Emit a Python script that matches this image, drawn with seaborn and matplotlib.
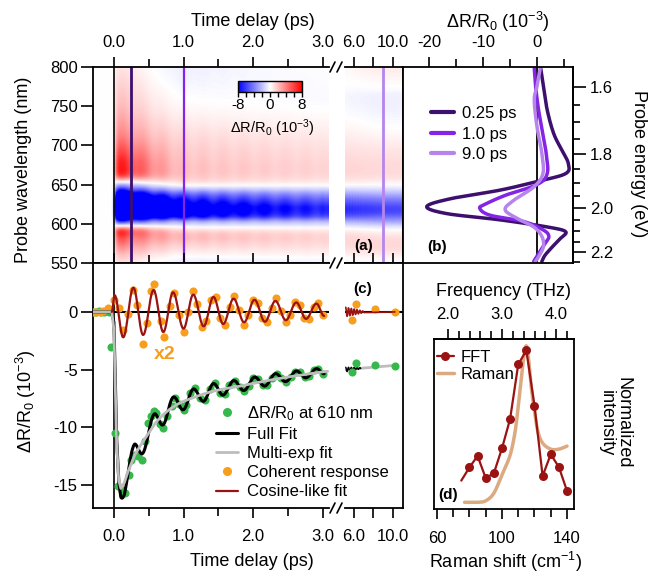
import numpy as np
import matplotlib
matplotlib.use('Agg')
import matplotlib.pyplot as plt
from matplotlib.lines import Line2D
from matplotlib.ticker import FixedLocator
import seaborn as sns

# ---- panel (b): transient spectra, probe wavelength (nm) vs dR/R0 (1e-3) ----
wl_025 = [798, 775, 745, 715, 694, 677, 664, 654, 643, 632, 622, 613, 605, 596, 590, 581, 571, 560, 552]
dr_025 = [0.7, 1.2, 1.9, 3.1, 4.6, 5.8, 5.3, 0.0, -6.8, -16.0, -20.4, -16.7, -6.8, 1.9, 5.3, 4.3, 2.9, 1.5, 0.9]
wl_100 = [798, 775, 745, 715, 690, 664, 650, 637, 626, 620, 611, 603, 592, 584, 575, 562, 552]
dr_100 = [-0.5, -0.25, 0.3, 1.1, 1.7, 1.9, 0.0, -5.6, -9.3, -10.6, -8.7, -2.5, 1.2, 2.2, 1.5, 0.3, -0.6]
wl_900 = [798, 775, 758, 724, 690, 664, 647, 630, 618, 607, 596, 584, 571, 558, 552]
dr_900 = [0.6, 0.0, -0.5, 0.0, 0.9, 1.1, -0.6, -4.3, -5.9, -3.7, -0.6, 0.9, 1.2, 0.3, -0.3]
spec_times = [0.25, 1.0, 9.0]
spec_labels = ['0.25 ps', '1.0 ps', '9.0 ps']
spec_colors = ['#3d0f6e', '#8424e6', '#b684ec']

# ---- panel (c): kinetics at 610 nm (1e-3) ----
mexp_t = [-0.30, -0.03, 0.00, 0.02, 0.04, 0.07, 0.10, 0.15, 0.20, 0.30, 0.40, 0.50, 0.60,
          0.70, 0.80, 0.90, 1.00, 1.20, 1.40, 1.60, 1.80, 2.00, 2.30, 2.60, 3.00, 3.07]
mexp_v = [0.0, 0.0, -1.5, -6.5, -11.5, -14.6, -15.3, -14.8, -13.9, -12.4, -11.4, -10.5, -9.6,
          -8.95, -8.45, -8.05, -7.75, -7.3, -6.9, -6.65, -6.45, -6.2, -5.85, -5.55, -5.2, -5.15]
mexp2_t = [5.1, 10.4]
mexp2_v = [-5.0, -4.62]

# extrema of the cosine-like fit (x2 scale)
cos_t = [-0.03, 0.01, 0.134, 0.28, 0.42, 0.57, 0.71, 0.85, 1.00, 1.14, 1.29, 1.43, 1.57,
         1.72, 1.87, 2.02, 2.17, 2.32, 2.47, 2.62, 2.76, 2.91, 3.02]
cos_v = [0.0, 1.45, -2.2, 2.1, -2.0, 1.9, -1.75, 1.7, -1.45, 1.5, -1.25, 1.3, -1.05,
         1.15, -0.9, 1.05, -0.85, 0.95, -0.72, 0.82, -0.6, 0.72, -0.35]
cos2_t = [5.15, 5.29, 5.44, 5.58, 5.73, 5.87, 6.02, 6.16, 6.31, 6.45, 6.60, 6.74, 6.89, 7.03, 10.2]
cos2_v = [0.40, -0.38, 0.35, -0.33, 0.30, -0.28, 0.25, -0.22, 0.20, -0.17, 0.14, -0.11, 0.08, -0.05, 0.0]

green_t = [-0.30, -0.26, -0.22, -0.18, -0.14, -0.10, -0.07, -0.04, 0.01, 0.06, 0.11, 0.16, 0.21,
           0.25, 0.30, 0.35, 0.40, 0.45, 0.49, 0.53, 0.57, 0.61, 0.66, 0.71, 0.77, 0.83, 0.88,
           0.94, 1.00, 1.04, 1.09, 1.17, 1.24, 1.31, 1.38, 1.45, 1.52, 1.59, 1.66, 1.74, 1.81,
           1.87, 1.94, 2.00, 2.07, 2.14, 2.20, 2.27, 2.34, 2.40, 2.47, 2.54, 2.60, 2.67, 2.74,
           2.80, 2.87, 2.93, 3.00]
green_v = [0.0, 0.0, 0.05, -0.05, 0.0, 0.05, 0.0, -3.0, -10.5, -15.1, -15.4, -15.7, -14.1,
           -12.8, -12.4, -12.5, -12.8, -11.2, -9.6, -9.0, -8.6, -8.8, -9.7, -10.1, -9.0, -8.2, -7.5,
           -8.0, -8.5, -8.1, -7.0, -6.6, -7.5, -7.6, -6.65, -6.2, -7.0, -7.1, -6.35, -5.95, -6.5,
           -6.85, -6.4, -5.75, -5.8, -6.3, -6.3, -5.7, -5.35, -5.75, -6.05, -5.65, -5.2, -5.25, -5.65,
           -5.55, -5.05, -4.95, -5.35]
green2_t = [5.76, 6.17, 8.15, 10.2]
green2_v = [-5.17, -4.39, -4.59, -4.68]

orange_t = [-0.30, -0.25, -0.20, -0.15, -0.09, 0.00, 0.07, 0.13, 0.20, 0.27, 0.33, 0.42, 0.47,
            0.53, 0.57, 0.67, 0.72, 0.80, 0.87, 0.93, 1.00, 1.07, 1.13, 1.20, 1.27, 1.33, 1.40,
            1.47, 1.53, 1.60, 1.67, 1.73, 1.80, 1.87, 1.93, 2.00, 2.07, 2.13, 2.20, 2.27, 2.33,
            2.40, 2.47, 2.53, 2.60, 2.67, 2.73, 2.80, 2.87, 2.93, 3.00]
orange_v = [0.0, 0.0, 0.0, 0.05, 0.35, 1.0, 0.3, -1.6, -0.2, 1.9, 0.6, -2.75, -1.0,
            1.8, 2.45, -0.8, -2.15, 0.5, 1.6, -0.3, -1.7, 0.0, 1.8, 0.7, -1.3, -0.8, 1.0,
            1.3, -0.5, -1.1, 0.4, 1.4, 0.2, -1.1, -0.3, 1.0, 0.8, -0.5, -0.9, 0.3, 1.2,
            0.1, -0.9, -0.3, 0.9, 0.6, -0.5, -0.6, 0.4, 0.8, -0.3]
orange2_t = [5.76, 6.17, 8.15, 10.2]
orange2_v = [-0.69, 0.69, 0.23, -0.05]

# ---- panel (d): FFT vs Raman ----
fft_x = [75, 80, 85, 90, 95, 100, 105, 110, 115, 120, 125, 130, 135, 140]
fft_y = [0.143, 0.230, 0.305, 0.160, 0.191, 0.355, 0.548, 0.908, 1.0, 0.636, 0.173, 0.316, 0.232, 0.075]
raman_x = [77, 85, 90, 95, 100, 105, 108, 110, 112, 113.5, 115, 116.5, 118, 120, 122, 125, 130, 135, 140]
raman_y = [0.0, 0.0, 0.01, 0.06, 0.18, 0.31, 0.46, 0.63, 0.83, 0.96, 1.03, 0.93, 0.76, 0.60, 0.47,
           0.39, 0.35, 0.35, 0.37]

GREEN = '#36b94c'
ORANGE = '#f99d1c'
DARKRED = '#9b1212'
GREY = '#bdbdbd'
TAN = '#dcaa80'


def catmull(x, y, n=16):
    # smooth drawing path through the read points
    p = np.column_stack([x, y]).astype(float)
    p = np.vstack([2 * p[0] - p[1], p, 2 * p[-1] - p[-2]])
    s = np.linspace(0, 1, n, endpoint=False)[:, None]
    segs = []
    for i in range(1, len(p) - 2):
        p0, p1, p2, p3 = p[i - 1], p[i], p[i + 1], p[i + 2]
        segs.append(0.5 * (2 * p1 + (p2 - p0) * s + (2 * p0 - 5 * p1 + 4 * p2 - p3) * s ** 2
                           + (3 * p1 - p0 - 3 * p2 + p3) * s ** 3))
    segs.append(p[-2][None, :])
    c = np.vstack(segs)
    return c[:, 0], c[:, 1]


def through_extrema(t, v, n=24):
    tt, vv = [], []
    for i in range(len(t) - 1):
        s = np.linspace(0, 1, n, endpoint=False)
        tt.append(t[i] + (t[i + 1] - t[i]) * s)
        vv.append((v[i] + v[i + 1]) / 2 + (v[i] - v[i + 1]) / 2 * np.cos(np.pi * s))
    tt.append([t[-1]])
    vv.append([v[-1]])
    return np.concatenate(tt), np.concatenate(vv)


sns.set_style("ticks", {"axes.edgecolor": "black", "xtick.color": "black",
                        "ytick.color": "black", "text.color": "black", "axes.labelcolor": "black"})
plt.rcParams['font.family'] = ['Liberation Sans', 'DejaVu Sans']
plt.rcParams['axes.unicode_minus'] = False
plt.rcParams['mathtext.default'] = 'regular'
plt.rcParams['axes.linewidth'] = 1.3

W, H = 661, 574


def box(x0, y0, x1, y1):
    return [x0 / W, 1 - y1 / H, (x1 - x0) / W, (y1 - y0) / H]


def fx(px):
    return px / W


def fy(py):
    return 1 - py / H


fig = plt.figure(figsize=(W / 100, H / 100), dpi=100)
ax_a1 = fig.add_axes(box(93, 67, 329, 263))
ax_a2 = fig.add_axes(box(345, 67, 403, 263))
ax_c1 = fig.add_axes(box(93, 263, 329, 508))
ax_c2 = fig.add_axes(box(345, 263, 403, 508))
ax_b = fig.add_axes(box(403, 67, 573, 263))
ax_d = fig.add_axes(box(434, 339, 574, 509))
cax = fig.add_axes(box(238, 81, 302, 92))

XL1 = (-0.30, 3.09)
XL2 = (5.08, 11.03)

# ---- fits on drawing grids ----
cos_tt, cos_vv = through_extrema(cos_t, cos_v)
cos2_tt, cos2_vv = through_extrema(cos2_t, cos2_v, n=10)
ff_t = np.concatenate([[-0.30], cos_tt])
ff_v = np.interp(ff_t, mexp_t, mexp_v) + np.interp(ff_t, cos_tt, cos_vv, left=0, right=0) / 2
ff2_t = cos2_tt[cos2_tt <= 6.7]
ff2_v = np.interp(ff2_t, mexp2_t, mexp2_v) + np.interp(ff2_t, cos2_tt, cos2_vv) / 2

# ---- panel (a) map built from the read spectra and kinetics ----
wl_map = np.linspace(550, 800, 251)
spec_raw = []
for wl, dr in ((wl_025, dr_025), (wl_100, dr_100), (wl_900, dr_900)):
    sx, sy = catmull(wl, dr)
    o = np.argsort(sx)
    spec_raw.append(np.interp(wl_map, sx[o], sy[o]))
spec_raw = np.array(spec_raw)
spec_min = np.abs(spec_raw.min(axis=1))
spec_norm = spec_raw / spec_min[:, None]
grey_at = np.array([np.interp(0.25, mexp_t, mexp_v), np.interp(1.0, mexp_t, mexp_v),
                    np.interp(9.0, mexp2_t, mexp2_v)])
gain = spec_min / -grey_at


def map_block(tgrid, kin):
    cols = []
    for t in tgrid:
        tc = np.clip(t, spec_times[0], spec_times[-1])
        if tc <= spec_times[1]:
            w = (tc - spec_times[0]) / (spec_times[1] - spec_times[0])
            sh = (1 - w) * spec_norm[0] + w * spec_norm[1]
        else:
            w = (tc - spec_times[1]) / (spec_times[2] - spec_times[1])
            sh = (1 - w) * spec_norm[1] + w * spec_norm[2]
        cols.append(sh)
    amp = -kin * np.interp(tgrid, spec_times, gain)
    return np.array(cols).T * amp[None, :]


t_map1 = np.linspace(XL1[0], XL1[1], 500)
kin1 = np.interp(t_map1, mexp_t, mexp_v) + np.interp(t_map1, cos_tt, cos_vv, left=0, right=0) / 2
Z1 = map_block(t_map1, kin1)
t_map2 = np.linspace(XL2[0], XL2[1], 120)
kin2 = np.interp(t_map2, mexp2_t, mexp2_v) + np.interp(t_map2, cos2_tt, cos2_vv) / 2
Z2 = map_block(t_map2, kin2)

mesh = ax_a1.pcolormesh(t_map1, wl_map, Z1, cmap='bwr', vmin=-8, vmax=8, shading='gouraud', rasterized=True)
ax_a2.pcolormesh(t_map2, wl_map, Z2, cmap='bwr', vmin=-8, vmax=8, shading='gouraud', rasterized=True)
ax_a1.axvline(0, color='black', lw=1.2)
ax_a1.axvline(0.25, color=spec_colors[0], lw=2)
ax_a1.axvline(1.0, color=spec_colors[1], lw=1.6)
ax_a2.axvline(9.0, color=spec_colors[2], lw=2)

cbar = fig.colorbar(mesh, cax=cax, orientation='horizontal', ticks=[-8, 0, 8])
cbar.ax.set_xticklabels(['-8', '0', '8'])
cbar.ax.xaxis.set_minor_locator(FixedLocator([-6, -4, -2, 2, 4, 6]))
cbar.ax.tick_params(which='both', direction='out', length=3.5, width=1, labelsize=11, pad=1)
cbar.outline.set_linewidth(1)
fig.text(fx(272), fy(128), 'ΔR/R$_0$ (10$^{-3}$)', ha='center', va='center', fontsize=10.5)

# ---- panel (c) ----
for ax in (ax_c1, ax_c2):
    ax.axhline(0, color='black', lw=1.5, zorder=1)
ax_c1.axvline(0, color='black', lw=1.2, zorder=1)

sns.scatterplot(x=green_t, y=green_v, color=GREEN, s=34, linewidth=0, ax=ax_c1, zorder=3, legend=False)
sns.lineplot(x=ff_t, y=ff_v, color='black', linewidth=2.2, sort=False, estimator=None, ax=ax_c1, zorder=4)
sns.lineplot(x=mexp_t, y=mexp_v, color=GREY, linewidth=2, sort=False, estimator=None, ax=ax_c1, zorder=5)
sns.scatterplot(x=orange_t, y=orange_v, color=ORANGE, s=34, linewidth=0, ax=ax_c1, zorder=3, legend=False)
sns.lineplot(x=cos_tt, y=cos_vv, color=DARKRED, linewidth=1.6, sort=False, estimator=None, ax=ax_c1, zorder=5)

sns.lineplot(x=mexp2_t, y=mexp2_v, color=GREY, linewidth=2, sort=False, estimator=None, ax=ax_c2, zorder=2)
sns.lineplot(x=ff2_t, y=ff2_v, color='black', linewidth=1.0, sort=False, estimator=None, ax=ax_c2, zorder=3)
sns.scatterplot(x=green2_t, y=green2_v, color=GREEN, s=34, linewidth=0, ax=ax_c2, zorder=4, legend=False)
sns.scatterplot(x=orange2_t, y=orange2_v, color=ORANGE, s=34, linewidth=0, ax=ax_c2, zorder=4, legend=False)
sns.lineplot(x=cos2_tt, y=cos2_vv, color=DARKRED, linewidth=1.2, sort=False, estimator=None, ax=ax_c2, zorder=5)

ax_c1.text(0.73, -3.72, 'x2', color=ORANGE, fontsize=14, fontweight='bold', ha='center', va='center')

# ---- axes limits and ticks for (a) and (c) ----
for ax in (ax_a1, ax_a2):
    ax.set_ylim(550, 800)
for ax in (ax_c1, ax_c2):
    ax.set_ylim(-17.0, 4.24)
for ax in (ax_a1, ax_c1):
    ax.set_xlim(*XL1)
    ax.set_xticks([0, 1, 2, 3])
    ax.set_xticklabels(['0.0', '1.0', '2.0', '3.0'])
    ax.xaxis.set_minor_locator(FixedLocator([0.5, 1.5, 2.5]))
    ax.spines['right'].set_visible(False)
for ax in (ax_a2, ax_c2):
    ax.set_xlim(*XL2)
    ax.set_xticks([6, 8, 10])
    ax.set_xticklabels(['6.0', '', '10.0'])
    ax.spines['left'].set_visible(False)
    ax.set_yticks([])

ax_a1.set_yticks([550, 600, 650, 700, 750, 800])
ax_c1.set_yticks([0, -5, -10, -15])
ax_c1.set_yticklabels(['0', '-5', '-10', '-15'])
for ax in (ax_a1, ax_c1):
    ax.tick_params(axis='y', which='major', direction='out', length=9, width=1.2, pad=2, labelsize=12)

for ax in (ax_a1, ax_a2):
    ax.tick_params(axis='x', which='both', direction='out', top=True, bottom=False,
                   labeltop=True, labelbottom=False, width=1.2, pad=5, labelsize=12)
    ax.tick_params(axis='x', which='major', length=7)
    ax.tick_params(axis='x', which='minor', length=6)
for ax in (ax_c1, ax_c2):
    ax.tick_params(axis='x', which='both', direction='out', top=True, bottom=True,
                   labeltop=False, labelbottom=True, width=1.2, pad=8, labelsize=12)
    ax.tick_params(axis='x', which='major', length=7)
    ax.tick_params(axis='x', which='minor', length=6)

# break marks
for yb in (67, 263, 508):
    for xb in (330, 337):
        fig.add_artist(Line2D([fx(xb), fx(xb + 5)], [fy(yb + 5), fy(yb - 5)], color='black', lw=1.2))

# ---- panel (b) ----
for wl, dr, c in ((wl_025, dr_025, spec_colors[0]), (wl_100, dr_100, spec_colors[1]),
                  (wl_900, dr_900, spec_colors[2])):
    sx, sy = catmull(wl, dr)
    sns.lineplot(x=sy, y=sx, color=c, linewidth=2.5, sort=False, estimator=None, ax=ax_b)
ax_b.axvline(0, color='black', lw=1.3, zorder=1)
ax_b.set_xlim(-24.8, 6.67)
ax_b.set_ylim(550, 800)
ax_b.set_xticks([-20, -10, 0])
ax_b.set_xticklabels(['-20', '-10', '0'])
ax_b.xaxis.set_minor_locator(FixedLocator([-15, -5, 5]))
ax_b.set_yticks([])
ax_b.tick_params(axis='x', which='both', direction='out', top=True, bottom=False,
                 labeltop=True, labelbottom=False, width=1.2, pad=5, labelsize=12)
ax_b.tick_params(axis='x', which='major', length=7)
ax_b.tick_params(axis='x', which='minor', length=6)
sec_b = ax_b.secondary_yaxis('right', functions=(lambda w: 1239.84 / np.maximum(w, 1e-6),
                                                  lambda e: 1239.84 / np.maximum(e, 1e-6)))
sec_b.set_yticks([1.6, 1.8, 2.0, 2.2])
sec_b.set_yticklabels(['1.6', '1.8', '2.0', '2.2'])
sec_b.yaxis.set_minor_locator(FixedLocator([1.65, 1.7, 1.75, 1.85, 1.9, 1.95, 2.05, 2.1, 2.15, 2.25]))
sec_b.tick_params(which='major', direction='out', length=9, width=1.2, pad=3, labelsize=12)
sec_b.tick_params(which='minor', direction='out', length=5, width=1.2)
sec_b.spines['right'].set_linewidth(1.3)

hb = [Line2D([], [], color=c, lw=3) for c in spec_colors]
fig.legend(hb, spec_labels, loc='upper left', bbox_to_anchor=(fx(431), fy(106)),
           bbox_transform=fig.transFigure, frameon=False, fontsize=12, handlelength=1.4,
           handletextpad=0.45, labelspacing=0.33, borderpad=0, borderaxespad=0)

# ---- panel (d) ----
rx, ry = catmull(raman_x, raman_y)
sns.lineplot(x=rx, y=ry, color=TAN, linewidth=2.5, sort=False, estimator=None, ax=ax_d, zorder=2)
sns.lineplot(x=fft_x, y=fft_y, color=DARKRED, linewidth=1.6, sort=False, estimator=None, ax=ax_d, zorder=3)
sns.scatterplot(x=fft_x[1:], y=fft_y[1:], color=DARKRED, s=42, linewidth=0, ax=ax_d, zorder=4, legend=False)
ax_d.set_xlim(58.2, 144.3)
ax_d.set_ylim(-0.044, 1.075)
ax_d.set_yticks([])
ax_d.set_xticks([60, 100, 140])
ax_d.xaxis.set_minor_locator(FixedLocator([70, 80, 90, 110, 120, 130]))
ax_d.tick_params(axis='x', which='both', direction='out', width=1.2, pad=9, labelsize=12)
ax_d.tick_params(axis='x', which='major', length=7)
ax_d.tick_params(axis='x', which='minor', length=6)
sec_d = ax_d.secondary_xaxis('top', functions=(lambda k: k / 33.356, lambda f: f * 33.356))
sec_d.set_xticks([2.0, 3.0, 4.0])
sec_d.set_xticklabels(['2.0', '3.0', '4.0'])
sec_d.xaxis.set_minor_locator(FixedLocator([2.2, 2.4, 2.6, 2.8, 3.2, 3.4, 3.6, 3.8, 4.2]))
sec_d.tick_params(which='major', direction='out', length=7, width=1.2, pad=5, labelsize=12)
sec_d.tick_params(which='minor', direction='out', length=6, width=1.2)

hd = [Line2D([], [], color=DARKRED, lw=1.6, marker='o', ms=6.5, mec='none'),
      Line2D([], [], color=TAN, lw=2.5)]
fig.legend(hd, ['FFT', 'Raman'], loc='upper left', bbox_to_anchor=(fx(437), fy(350)),
           bbox_transform=fig.transFigure, frameon=False, fontsize=12, handlelength=1.0,
           handletextpad=0.4, labelspacing=0.1, borderpad=0, borderaxespad=0)

# ---- legend (c) ----
hc = [Line2D([], [], ls='', marker='o', ms=6.5, color=GREEN, mec='none'),
      Line2D([], [], color='black', lw=2.2),
      Line2D([], [], color=GREY, lw=2),
      Line2D([], [], ls='', marker='o', ms=6.5, color=ORANGE, mec='none'),
      Line2D([], [], color=DARKRED, lw=1.6)]
lc = ['ΔR/R$_0$ at 610 nm', 'Full Fit', 'Multi-exp fit', 'Coherent response', 'Cosine-like fit']
fig.legend(hc, lc, loc='upper left', bbox_to_anchor=(fx(216), fy(404)),
           bbox_transform=fig.transFigure, frameon=False, fontsize=12, handlelength=1.3,
           handletextpad=0.55, labelspacing=0.25, borderpad=0, borderaxespad=0)

# ---- panel tags and axis titles ----
for x, y, s in ((364, 246, '(a)'), (437, 247, '(b)'), (363, 289, '(c)'), (448, 495, '(d)')):
    fig.text(fx(x), fy(y), s, fontsize=11, fontweight='bold', ha='center', va='center')

fig.text(fx(253), fy(21), 'Time delay (ps)', ha='center', va='center', fontsize=13)
fig.text(fx(252), fy(561), 'Time delay (ps)', ha='center', va='center', fontsize=13)
fig.text(fx(498), fy(22), 'ΔR/R$_0$ (10$^{-3}$)', ha='center', va='center', fontsize=13)
fig.text(fx(24), fy(170), 'Probe wavelength (nm)', ha='center', va='center', rotation=90, fontsize=13)
fig.text(fx(639), fy(164), 'Probe energy (eV)', ha='center', va='center', rotation=270, fontsize=13)
fig.text(fx(26), fy(401), 'ΔR/R$_0$ (10$^{-3}$)', ha='center', va='center', rotation=90, fontsize=13)
fig.text(fx(504), fy(291), 'Frequency (THz)', ha='center', va='center', fontsize=13)
fig.text(fx(505), fy(562), 'Raman shift (cm$^{-1}$)', ha='center', va='center', fontsize=13)
fig.text(fx(615), fy(423), 'Normalized\nintensity', ha='center', va='center', rotation=270,
         fontsize=13, linespacing=1.0)

fig.savefig('out.png', dpi=100)
